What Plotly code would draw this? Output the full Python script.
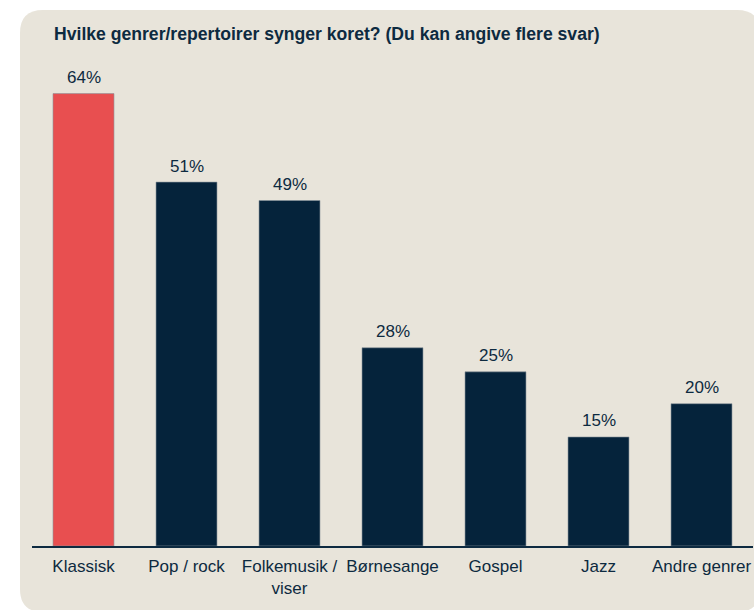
import plotly.graph_objects as go

categories = ["Klassisk", "Pop / rock", "Folkemusik /<br>viser", "Børnesange", "Gospel", "Jazz", "Andre genrer"]
values = [63.9, 51.4, 48.8, 28.0, 24.6, 15.4, 20.1]
value_labels = [f"{round(v)}%" for v in values]
colors = ["#e84f50"] + ["#05233b"] * 6
title_text = "Hvilke genrer/repertoirer synger koret? (Du kan angive flere svar)"

FONT = "Liberation Sans, Arial, sans-serif"
TXT = "#0d2a40"

W, H = 754, 610
L, R, T, B = 32, 1, 60, 64
pw, ph = W - L - R, H - T - B

def px(x):
    return (x - L) / pw

def py(y):
    return (H - B - y) / ph

# rounded background panel (pixel coords -> paper coords)
x0, x1, y0, y1, r = 20, 760, 10, 612, 23
path = (
    f"M {px(x0 + r)} {py(y0)} L {px(x1 - r)} {py(y0)} "
    f"Q {px(x1)} {py(y0)} {px(x1)} {py(y0 + r)} L {px(x1)} {py(y1 - r)} "
    f"Q {px(x1)} {py(y1)} {px(x1 - r)} {py(y1)} L {px(x0 + r)} {py(y1)} "
    f"Q {px(x0)} {py(y1)} {px(x0)} {py(y1 - r)} L {px(x0)} {py(y0 + r)} "
    f"Q {px(x0)} {py(y0)} {px(x0 + r)} {py(y0)} Z"
)

fig = go.Figure(
    go.Bar(
        x=categories,
        y=values,
        marker=dict(color=colors, line=dict(color="#8a949c", width=0.6)),
        hoverinfo="skip",
    )
)

annotations = [
    dict(text=f"<b>{title_text}</b>", x=px(52), y=py(34.5), xref="paper", yref="paper",
         xanchor="left", yanchor="middle", showarrow=False,
         font=dict(family=FONT, size=17.6, color=TXT)),
]
for c, v, lab in zip(categories, values, value_labels):
    annotations.append(dict(
        x=c, y=v, xref="x", yref="y", text=lab, showarrow=False,
        xanchor="center", yanchor="middle", yshift=16,
        font=dict(family=FONT, size=17, color=TXT),
    ))

fig.update_layout(
    width=W,
    height=H,
    margin=dict(l=L, r=R, t=T, b=B, pad=0),
    paper_bgcolor="white",
    plot_bgcolor="rgba(0,0,0,0)",
    bargap=0.408,
    showlegend=False,
    font=dict(family=FONT, color=TXT),
    shapes=[
        dict(type="path", path=path, xref="paper", yref="paper",
             fillcolor="#e8e4da", line=dict(width=0), layer="below"),
    ],
    annotations=annotations,
    xaxis=dict(
        showline=True, linecolor=TXT, linewidth=1.5,
        ticks="", tickfont=dict(family=FONT, size=17, color=TXT),
        ticklabelstandoff=4,
        showgrid=False, zeroline=False, fixedrange=True,
    ),
    yaxis=dict(range=[0, ph / 7.08], visible=False, showgrid=False, zeroline=False,
               fixedrange=True),
)

fig.write_html(
    "out.html",
    config={"displayModeBar": False, "staticPlot": True},
    post_script="document.body.style.margin='0';document.body.style.overflow='hidden';",
)
